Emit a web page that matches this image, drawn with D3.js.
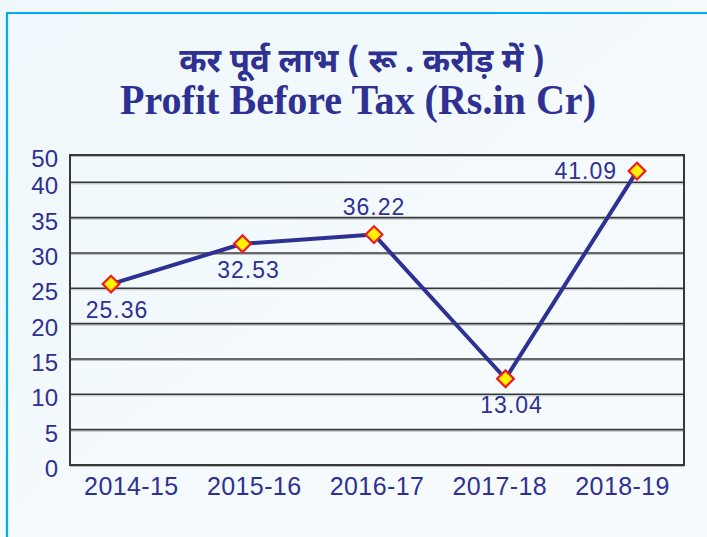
<!DOCTYPE html>
<html>
<head>
<meta charset="utf-8">
<script src="https://cdn.jsdelivr.net/npm/d3@7"></script>
<style>
  html, body { margin: 0; padding: 0; }
  body { width: 707px; height: 537px; overflow: hidden; background: #f1f8fc; }
</style>
</head>
<body>
<div id="chart"></div>
<script>
var years = ['2014-15', '2015-16', '2016-17', '2017-18', '2018-19'];
// heights the markers are drawn at in the picture (they do not sit exactly on their printed figures)
var profit = [25.6, 31.3, 32.6, 12.2, 44.1];
var profitLabels = ['25.36', '32.53', '36.22', '13.04', '41.09'];
var labelSide = ['below', 'below', 'above', 'below', 'left'];
var yTicks = [0, 5, 10, 15, 20, 25, 30, 35, 40, 50];
var titleHi = 'कर पूर्व लाभ ( रू . करोड़ में )';
var titleEn = 'Profit Before Tax (Rs.in Cr)';

(function () {
  'use strict';
  var width = 707, height = 537;
  var margin = { top: 155, right: 23, bottom: 72, left: 70 };
  var iw = width - margin.left - margin.right;
  var ih = height - margin.top - margin.bottom;
  var navy = '#2e3192';
  var sans = '"Liberation Sans", Arial, Helvetica, sans-serif';

  var svg = d3.select('#chart').append('svg').attr('width', width).attr('height', height);

  var grad = svg.append('defs').append('linearGradient').attr('id', 'bg')
    .attr('x1', 0).attr('y1', 0).attr('x2', 1).attr('y2', 1);
  grad.append('stop').attr('offset', '0%').attr('stop-color', '#eff8fc');
  grad.append('stop').attr('offset', '100%').attr('stop-color', '#f8fbfe');
  svg.append('rect').attr('width', width).attr('height', height).attr('fill', 'url(#bg)');

  // cyan frame, open at right and bottom
  svg.append('path').attr('d', 'M7,' + height + 'V13H' + width)
    .attr('fill', 'none').attr('stroke', '#00aeef').attr('stroke-width', 2.2);

  // Titles
  svg.append('text').attr('x', 362).attr('y', 72).attr('text-anchor', 'middle')
    .attr('font-family', '"Noto Sans Devanagari", "Noto Serif Devanagari", "Lohit Devanagari", FreeSerif, "Noto Sans", sans-serif')
    .attr('font-weight', 'bold').attr('font-size', 33).attr('fill', navy)
    .text(titleHi);
  svg.append('text').attr('x', 358).attr('y', 114).attr('text-anchor', 'middle')
    .attr('font-family', '"Liberation Serif", "Times New Roman", serif')
    .attr('font-weight', 'bold').attr('font-size', 43)
    .attr('textLength', 476).attr('lengthAdjust', 'spacingAndGlyphs')
    .attr('fill', navy).text(titleEn);

  var g = svg.append('g').attr('transform', 'translate(' + margin.left + ',' + margin.top + ')');

  var xBand = d3.scaleBand().domain(years).range([0, iw]);
  // markers are spread a little wider than the category labels in the original
  var x = d3.scalePoint().domain(years).range([41, 567]);
  // axis is squeezed above 40 (only the 50 line is drawn there)
  var y = d3.scaleLinear().domain([0, 40, 50]).range([ih, ih * 0.088, 0]);

  // Gridlines with a soft shadow under each
  var grid = g.append('g');
  grid.selectAll('line.shadow').data(yTicks).enter().append('line')
    .attr('class', 'shadow')
    .attr('x1', 0).attr('x2', iw)
    .attr('y1', function (d) { return y(d) + 1.5; }).attr('y2', function (d) { return y(d) + 1.5; })
    .attr('stroke', '#b4b8bc').attr('stroke-width', 1);
  grid.selectAll('line.grid').data(yTicks).enter().append('line')
    .attr('class', 'grid')
    .attr('x1', 0).attr('x2', iw)
    .attr('y1', function (d) { return y(d); }).attr('y2', function (d) { return y(d); })
    .attr('stroke', '#383838').attr('stroke-width', 1.6);

  // plot frame
  g.append('rect').attr('x', 0).attr('y', 0).attr('width', iw).attr('height', ih)
    .attr('fill', 'none').attr('stroke', '#383838').attr('stroke-width', 2);

  // Axes
  var ya = g.append('g').call(d3.axisLeft(y).tickValues(yTicks).tickSize(0).tickPadding(12));
  ya.select('.domain').remove();
  ya.selectAll('text').attr('dy', '0.48em').attr('font-size', 24)
    .attr('font-family', sans).attr('fill', navy);

  var xa = g.append('g').attr('transform', 'translate(0,' + ih + ')')
    .call(d3.axisBottom(xBand).tickSize(0).tickPadding(12));
  xa.select('.domain').remove();
  xa.selectAll('text').attr('font-size', 25).attr('letter-spacing', '0.4px')
    .attr('font-family', sans).attr('fill', navy);

  var pts = years.map(function (yr, i) { return { year: yr, v: profit[i], label: profitLabels[i], side: labelSide[i] }; });

  // Line
  g.append('path').datum(pts)
    .attr('d', d3.line().x(function (d) { return x(d.year); }).y(function (d) { return y(d.v); }))
    .attr('fill', 'none').attr('stroke', navy).attr('stroke-width', 4)
    .attr('stroke-linejoin', 'round');

  // Diamond markers
  g.selectAll('path.mk').data(pts).enter().append('path')
    .attr('class', 'mk')
    .attr('d', d3.symbol().type(d3.symbolSquare).size(140))
    .attr('transform', function (d) { return 'translate(' + x(d.year) + ',' + y(d.v) + ') rotate(45)'; })
    .attr('fill', '#fff200').attr('stroke', '#ed1c24').attr('stroke-width', 2.2);

  // Value labels
  g.selectAll('text.val').data(pts).enter().append('text')
    .attr('class', 'val')
    .attr('x', function (d) {
      if (d.side === 'left') return x(d.year) - 20;
      if (d.side === 'below') return x(d.year) + 6;
      return x(d.year);
    })
    .attr('y', function (d) {
      if (d.side === 'below') return y(d.v) + 34;
      if (d.side === 'above') return y(d.v) - 20;
      return y(d.v) + 8;
    })
    .attr('text-anchor', function (d) { return d.side === 'left' ? 'end' : 'middle'; })
    .attr('font-family', sans).attr('font-size', 23).attr('letter-spacing', '1px')
    .attr('fill', navy)
    .text(function (d) { return d.label; });
})();
</script>
</body>
</html>
